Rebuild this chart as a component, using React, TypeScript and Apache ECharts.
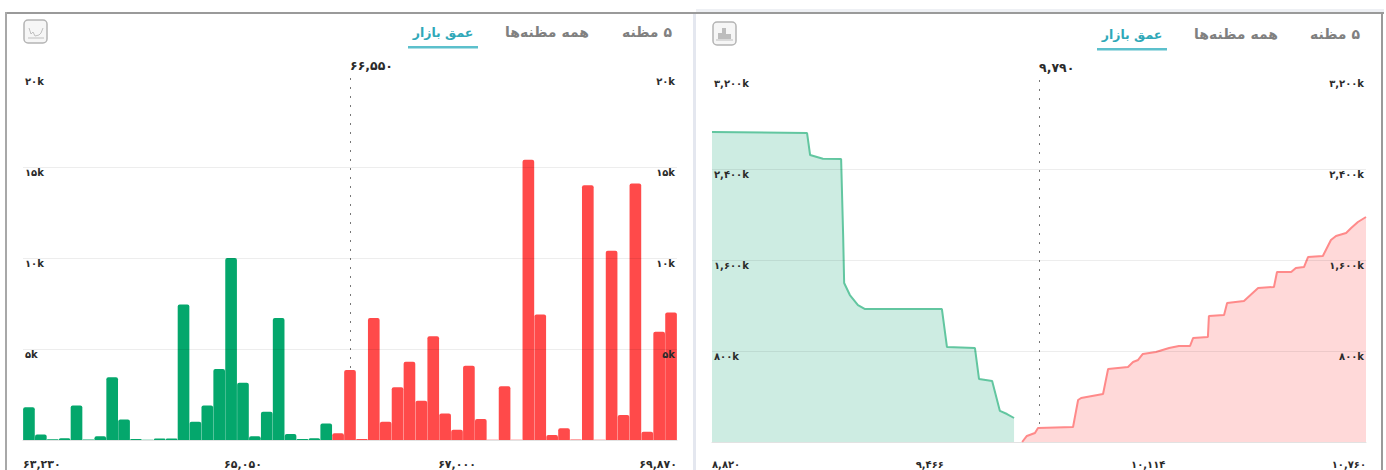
import React, { useEffect, useRef } from "react";
import * as echarts from "echarts";

const FONT = '"DejaVu Sans", sans-serif';

// Left panel: order book volume per price bucket
const bidBars = [1800, 300, 40, 100, 1900, 30, 200, 3450, 1130, 60, 20, 80, 80, 7450, 1000, 1900, 3900, 10000, 3150, 200, 1550, 6700, 330, 50, 100, 900];
const askBars = [370, 3850, 50, 6700, 1000, 2900, 4300, 2150, 5700, 1450, 570, 4080, 1150, 20, 2950, 20, 15400, 6900, 280, 640, 30, 14000, 20, 10400, 1370, 14100, 460, 5950, 7000];
const barTickLabels = ["۶۳,۲۳۰", "۶۵,۰۵۰", "۶۷,۰۰۰", "۶۹,۸۷۰"];
const barTickSlots = [0, 18.5, 36.5, 55];
const barMidLabel = "۶۶,۵۵۰";
const barMidIndex = 27;

// Right panel: cumulative depth [price, volume in k]
const bidDepth = [
  [8820, 2725], [9102, 2716], [9111, 2523], [9149, 2490], [9203, 2488], [9209, 1820], [9212, 1398],
  [9229, 1292], [9253, 1204], [9274, 1169], [9502, 1169], [9517, 835], [9600, 826], [9612, 554],
  [9651, 536], [9674, 273], [9695, 246], [9716, 211],
];
const askDepth = [
  [9740, 0], [9754, 53], [9778, 79], [9787, 123], [9891, 132], [9906, 369], [9915, 387], [9980, 422],
  [9995, 642], [10054, 659], [10069, 703], [10084, 721], [10098, 774], [10137, 791], [10176, 826],
  [10205, 844], [10238, 844], [10247, 914], [10291, 923], [10294, 1108], [10339, 1116], [10348, 1222],
  [10398, 1240], [10440, 1354], [10487, 1363], [10496, 1494], [10538, 1494], [10552, 1530], [10576, 1538],
  [10588, 1626], [10632, 1635], [10656, 1776], [10671, 1811], [10701, 1837], [10716, 1881], [10736, 1934],
  [10760, 1978],
];
const depthTicks = [8820, 9466, 10114, 10760];
const depthMid = 9790;

const tabLabels = ["\u200F۵ مظنه", "همه مظنه‌ها", "عمق بازار"];

const fa = (s: string | number) => String(s).replace(/\d/g, (d) => "۰۱۲۳۴۵۶۷۸۹"[+d]);
const faNum = (v: number) => fa(v.toLocaleString("en-US"));

const TEXT = "#2b2b2b";
const GRID = "rgba(0,0,0,0.07)";

function yAxes(gridIndex: number, max: number, interval: number, divisor: number) {
  const common = {
    gridIndex, type: "value", min: 0, max, interval, z: 3,
    axisLine: { show: false }, axisTick: { show: false },
  };
  const label = {
    inside: true, margin: 2, formatter: (v: number) => (v === 0 ? "" : faNum(v / divisor) + "k"),
    fontFamily: FONT, fontSize: 10, fontWeight: "bold",
    color: TEXT, verticalAlign: "top", showMaxLabel: true, showMinLabel: false,
  };
  return [
    { ...common, position: "left", axisLabel: label, splitLine: { show: true, showMaxLine: false, showMinLine: false, lineStyle: { color: GRID, width: 1 } } },
    { ...common, position: "right", axisLabel: label, splitLine: { show: false } },
  ];
}

function midLine(value: number, text: string) {
  return {
    silent: true, symbol: "none", z: 1, animation: false,
    lineStyle: { color: "#777", width: 1, type: [2, 7] },
    label: {
      show: true, position: "end", formatter: text, fontFamily: FONT, fontSize: 12.5, fontWeight: "bold",
      color: TEXT, align: "left", distance: 4,
    },
    emphasis: { disabled: true },
    data: [{ xAxis: value }],
  };
}

function tabs(y: number, xs: number[], underline: number[]) {
  return [
    ...tabLabels.map((t, i) => ({
      type: "text", x: xs[i], y, z: 10,
      style: {
        text: t, font: `bold ${i === 2 ? 12.5 : 14}px ${FONT}`, fill: i === 2 ? "#2fa8b8" : "#808080",
        align: "center", verticalAlign: "middle",
      },
    })),
    {
      type: "rect", z: 10,
      shape: { x: underline[0], y: y + 14, width: underline[1] - underline[0], height: 2.5 },
      style: { fill: "#5cc0cc" },
    },
  ];
}

const frame = [
  { type: "rect", z: 9, shape: { x: 696, y: 9, width: 688, height: 3 }, style: { fill: "#eef0f4" } },
  { type: "rect", z: 9, shape: { x: 693, y: 12, width: 3, height: 458 }, style: { fill: "#e4e7ef" } },
  { type: "rect", z: 10, shape: { x: 5, y: 12, width: 1379, height: 2 }, style: { fill: "#9a9a9a" } },
  { type: "rect", z: 10, shape: { x: 5, y: 12, width: 2, height: 458 }, style: { fill: "#a8a8a8" } },
  { type: "rect", z: 10, shape: { x: 1381, y: 12, width: 2, height: 458 }, style: { fill: "#9a9a9a" } },
];

const iconBox = (x: number, y: number) => ({
  type: "rect", z: 10,
  shape: { x, y, width: 23, height: 23, r: 4 },
  style: { fill: "#f6f6f6", stroke: "#b4b4b4", lineWidth: 1.5 },
});

const icons = [
  iconBox(24, 20),
  { type: "polyline", z: 11, shape: { points: [[29, 28], [31, 34], [33, 32], [35, 36], [39, 35], [41, 33], [43, 28]] }, style: { fill: "none", stroke: "#c0c0c0", lineWidth: 1 } },
  { type: "line", z: 11, shape: { x1: 28, y1: 38, x2: 44, y2: 38 }, style: { stroke: "#c0c0c0", lineWidth: 1 } },
  iconBox(713, 22),
  { type: "rect", z: 11, shape: { x: 718, y: 33, width: 4, height: 6 }, style: { fill: "#bdbdbd" } },
  { type: "rect", z: 11, shape: { x: 722, y: 28, width: 4, height: 11 }, style: { fill: "#bdbdbd" } },
  { type: "rect", z: 11, shape: { x: 726, y: 34, width: 5, height: 5 }, style: { fill: "#bdbdbd" } },
  { type: "line", z: 11, shape: { x1: 716, y1: 40, x2: 733, y2: 40 }, style: { stroke: "#bdbdbd", lineWidth: 1 } },
];

export default function App() {
  const ref = useRef<HTMLDivElement>(null);
  useEffect(() => {
    const chart = echarts.init(ref.current!, undefined, { renderer: "svg" });
    const categories = [...bidBars, ...askBars].map((_, i) => String(i));
    const barData = (vals: number[], start: number) => vals.map((v, i) => [start + i, v]);
    chart.setOption({
      animation: false,
      backgroundColor: "#fff",
      grid: [
        { left: 23, right: 709, top: 76, bottom: 30, outerBoundsMode: "none" },
        { left: 712, right: 20, top: 78, bottom: 28, outerBoundsMode: "none" },
      ],
      xAxis: [
        {
          gridIndex: 0, type: "category", data: categories,
          axisLine: { lineStyle: { color: "#e2e2e2" } }, axisTick: { show: false },
          splitLine: { show: false }, axisLabel: { show: false },
        },
        {
          gridIndex: 1, type: "value", min: 8820, max: 10760,
          axisLine: { lineStyle: { color: "#e2e2e2" } }, axisTick: { show: false },
          splitLine: { show: false },
          axisLabel: {
            customValues: depthTicks, margin: 17, fontFamily: FONT, fontSize: 10, lineHeight: 10, fontWeight: "bold", color: TEXT,
            alignMinLabel: "left", alignMaxLabel: "right",
            formatter: (v: number) => faNum(v),
          },
        },
        {
          gridIndex: 0, type: "value", min: 0, max: 55, position: "bottom",
          axisLine: { show: false }, axisTick: { show: false }, splitLine: { show: false },
          axisLabel: {
            customValues: barTickSlots, margin: 19, fontFamily: FONT, fontSize: 11, lineHeight: 10, fontWeight: "bold", color: TEXT,
            alignMinLabel: "left", alignMaxLabel: "right",
            formatter: (v: number) => barTickLabels[barTickSlots.indexOf(v)] ?? "",
          },
        },
      ],
      yAxis: [...yAxes(0, 20000, 5000, 1000), ...yAxes(1, 3200, 800, 1)],
      series: [
        {
          type: "bar", name: "bid", xAxisIndex: 0, yAxisIndex: 0, z: 2, barGap: "-100%", barCategoryGap: "2%",
          itemStyle: { color: "#04a76c", borderRadius: [2, 2, 0, 0] },
          data: barData(bidBars, 0),
        },
        {
          type: "bar", name: "ask", xAxisIndex: 0, yAxisIndex: 0, z: 2, barGap: "-100%", barCategoryGap: "2%",
          itemStyle: { color: "#ff4a4a", borderRadius: [2, 2, 0, 0] },
          data: barData(askBars, bidBars.length),
          markLine: midLine(barMidIndex, barMidLabel),
        },
        {
          type: "line", name: "bid depth", xAxisIndex: 1, yAxisIndex: 2, z: 2, showSymbol: false,
          lineStyle: { color: "#62c6a0", width: 2 }, areaStyle: { color: "#cdece2", opacity: 1 },
          data: bidDepth,
        },
        {
          type: "line", name: "ask depth", xAxisIndex: 1, yAxisIndex: 2, z: 2, showSymbol: false,
          lineStyle: { color: "#ff8a8a", width: 2 }, areaStyle: { color: "#ffd9d9", opacity: 1 },
          data: askDepth,
          markLine: midLine(depthMid, faNum(depthMid)),
        },
      ],
      graphic: [
        ...frame,
        ...icons,
        ...tabs(32, [647, 547, 443], [408, 478]),
        ...tabs(34, [1335, 1236, 1132], [1097, 1167]),
      ],
    });
    return () => chart.dispose();
  }, []);
  return <div ref={ref} style={{ position: "fixed", left: 0, top: 0, width: 1386, height: 470 }} />;
}
